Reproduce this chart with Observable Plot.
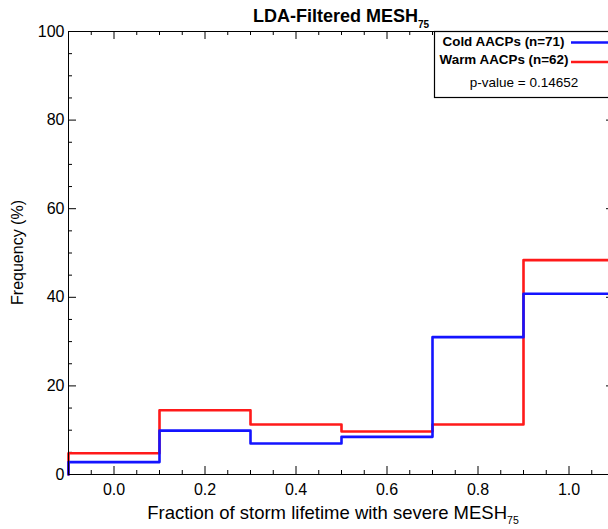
<!DOCTYPE html>
<html>
<head>
<meta charset="utf-8">
<script src="https://cdn.jsdelivr.net/npm/d3@7"></script>
<script src="https://cdn.jsdelivr.net/npm/@observablehq/plot@0.6"></script>
<style>
  html, body { margin: 0; padding: 0; overflow: hidden; background: #fff; }
  #chart { width: 608px; height: 529px; overflow: hidden; }
  #chart svg { display: block; max-width: none !important; height: 529px !important; }
</style>
</head>
<body>
<div id="chart"></div>
<script>
// Histogram bin edges (fraction of storm lifetime) and frequencies (%) per group
const binEdges = [-0.1, 0.1, 0.3, 0.5, 0.7, 0.9, 1.1];
const coldFreq = [2.8, 9.9, 7.0, 8.5, 31.0, 40.8];
const warmFreq = [4.8, 14.5, 11.3, 9.7, 11.3, 48.4];
const coldName = "Cold AACPs (n=71)";
const warmName = "Warm AACPs (n=62)";
const pValueText = "p-value = 0.14652";
const xTickLabels = [0.0, 0.2, 0.4, 0.6, 0.8, 1.0];
const yTickLabels = [0, 20, 40, 60, 80, 100];

const W = 614, H = 529;
const M = {top: 31, right: 0, bottom: 55, left: 68};
const FW = W - M.left - M.right, FH = H - M.top - M.bottom;
const font = "'Liberation Sans', Arial, Helvetica, sans-serif";
const blue = "#1414ff", red = "#ff1a1a";

// Outline of a histogram as a step path: rise from zero at the first edge,
// then one level per bin, closing at the last edge.
function stepPoints(values) {
  const pts = [{x: binEdges[0], y: 0}];
  values.forEach((v, i) => pts.push({x: binEdges[i], y: v}));
  pts.push({x: binEdges[binEdges.length - 1], y: values[values.length - 1]});
  return pts;
}

// Minor and major tick positions (inward-facing ticks on all four sides)
const xAll = d3.range(-1, 22).map(i => +(i * 0.05).toFixed(2));
const xMajor = xAll.filter((_, k) => (k - 1) % 4 === 0);
const xMinor = xAll.filter((_, k) => (k - 1) % 4 !== 0);
const yMajor = d3.range(0, 101, 20);
const yMinor = d3.range(5, 100, 5).filter(v => v % 20 !== 0);
const majLen = 8, minLen = 4;

const plot = Plot.plot({
  width: W,
  height: H,
  marginTop: M.top,
  marginRight: M.right,
  marginBottom: M.bottom,
  marginLeft: M.left,
  style: {fontFamily: font, fontSize: "16px", color: "#000", background: "#fff", overflow: "visible", maxWidth: "none"},
  x: {domain: [-0.1, 1.1], axis: null},
  y: {domain: [0, 100], axis: null},
  marks: [
    // inward ticks
    Plot.tickX(xMajor, {x: d => d, insetTop: FH - majLen, stroke: "#000"}),
    Plot.tickX(xMinor, {x: d => d, insetTop: FH - minLen, stroke: "#000"}),
    Plot.tickX(xMajor, {x: d => d, insetBottom: FH - majLen, stroke: "#000"}),
    Plot.tickX(xMinor, {x: d => d, insetBottom: FH - minLen, stroke: "#000"}),
    Plot.tickY(yMajor, {y: d => d, insetRight: FW - majLen, stroke: "#000"}),
    Plot.tickY(yMinor, {y: d => d, insetRight: FW - minLen, stroke: "#000"}),
    Plot.tickY(yMajor, {y: d => d, insetLeft: FW - majLen, stroke: "#000"}),
    Plot.tickY(yMinor, {y: d => d, insetLeft: FW - minLen, stroke: "#000"}),
    // tick labels
    Plot.axisX(xTickLabels, {tickSize: 0, tickPadding: 9, tickFormat: d3.format(".1f"), fontSize: 16, label: null}),
    Plot.axisY(yTickLabels, {tickSize: 0, tickPadding: 4, fontSize: 16, label: null}),
    // histogram outlines
    Plot.line(stepPoints(warmFreq), {x: "x", y: "y", curve: "step-after", stroke: red, strokeWidth: 2.6}),
    Plot.line(stepPoints(coldFreq), {x: "x", y: "y", curve: "step-after", stroke: blue, strokeWidth: 2.6}),
    Plot.frame({stroke: "#000", strokeWidth: 1})
  ]
});

document.getElementById("chart").appendChild(plot);
const svg = d3.select(plot);
const cx = M.left + FW / 2;

// Title with subscript
const title = svg.append("text")
  .attr("x", cx).attr("y", 22)
  .attr("text-anchor", "middle")
  .attr("font-family", font).attr("font-size", 18).attr("font-weight", "bold")
  .text("LDA-Filtered MESH");
title.append("tspan").attr("dy", 6).attr("font-size", 10).text("75");

// X axis title
const xt = svg.append("text")
  .attr("x", cx - 8).attr("y", 519)
  .attr("text-anchor", "middle")
  .attr("font-family", font).attr("font-size", 18.5)
  .text("Fraction of storm lifetime with severe MESH");
xt.append("tspan").attr("dy", 5).attr("font-size", 10.5).text("75");

// Y axis title
svg.append("text")
  .attr("transform", `translate(23,${M.top + FH / 2}) rotate(-90)`)
  .attr("text-anchor", "middle")
  .attr("font-family", font).attr("font-size", 16)
  .text("Frequency (%)");

// Legend box
const lg = svg.append("g").attr("font-family", font);
lg.append("rect")
  .attr("x", 434.5).attr("y", M.top + 0.5)
  .attr("width", 220).attr("height", 66)
  .attr("fill", "#fff").attr("stroke", "#000").attr("stroke-width", 1.2);
lg.append("text").attr("x", 503.5).attr("y", 46).attr("text-anchor", "middle")
  .attr("font-size", 13.4).attr("font-weight", "bold").text(coldName);
lg.append("text").attr("x", 504).attr("y", 63.5).attr("text-anchor", "middle")
  .attr("font-size", 13.4).attr("font-weight", "bold").text(warmName);
lg.append("line").attr("x1", 571).attr("x2", 640).attr("y1", 42.5).attr("y2", 42.5)
  .attr("stroke", blue).attr("stroke-width", 2.6);
lg.append("line").attr("x1", 571).attr("x2", 640).attr("y1", 62).attr("y2", 62)
  .attr("stroke", red).attr("stroke-width", 2.6);
lg.append("text").attr("x", 524).attr("y", 86.5).attr("text-anchor", "middle")
  .attr("font-size", 13.5).text(pValueText);
</script>
</body>
</html>
